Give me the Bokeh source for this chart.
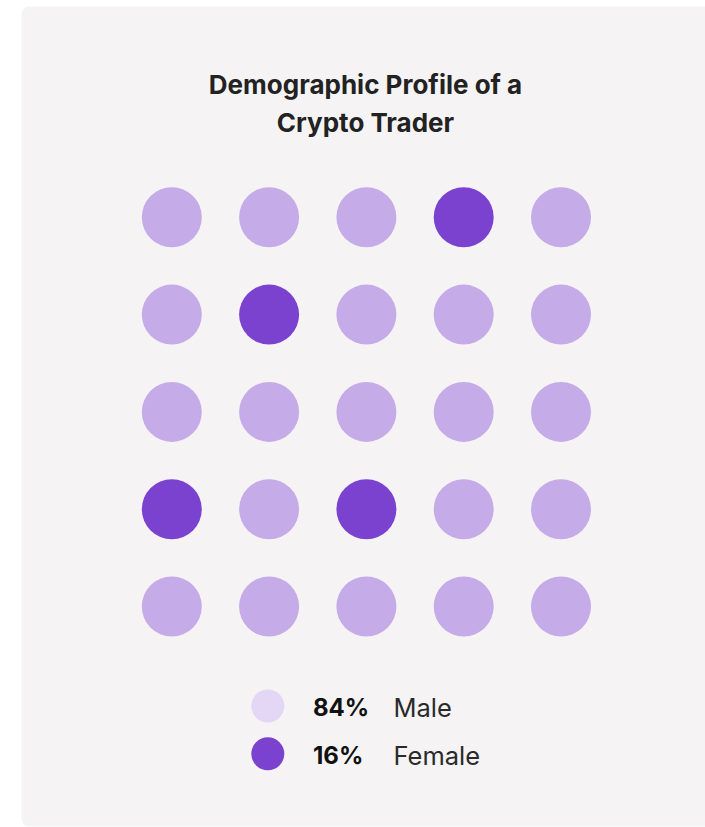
from bokeh.plotting import figure
from bokeh.models import Range1d, ColumnDataSource
from bokeh.core.properties import value
from bokeh.embed import file_html
from bokeh.resources import INLINE

title_lines = ["Demographic Profile of a", "Crypto Trader"]
grid_rows = [0, 0, 0, 0, 0, 1, 1, 1, 1, 1, 2, 2, 2, 2, 2, 3, 3, 3, 3, 3, 4, 4, 4, 4, 4]
grid_cols = [0, 1, 2, 3, 4] * 5
genders = ["Male", "Male", "Male", "Female", "Male",
           "Male", "Female", "Male", "Male", "Male",
           "Male", "Male", "Male", "Male", "Male",
           "Female", "Male", "Female", "Male", "Male",
           "Male", "Male", "Male", "Male", "Male"]
legend_labels = ["Male", "Female"]

LIGHT = "#c5abe8"
DARK = "#7a42cf"
LEGEND_LIGHT = "#e4d6f5"
BG = "#f5f3f4"
FONT = "Inter"

W, H = 705, 827
step = 97.3
x0 = -171.3 / step
y_top = -216.8 / step

p = figure(width=W, height=H, output_backend="svg", toolbar_location=None,
           x_range=Range1d(x0, x0 + W / step),
           y_range=Range1d(y_top + H / step, y_top),
           min_border=0, background_fill_color="white", border_fill_color="white",
           outline_line_color=None)
p.axis.visible = False
p.grid.visible = False
p.extra_x_ranges = {"px": Range1d(0, W)}
p.extra_y_ranges = {"px": Range1d(H, 0)}

# card
p.quad(left=21, right=740, top=6, bottom=826, fill_color=BG, line_color=None,
       border_radius=8, x_range_name="px", y_range_name="px")

# title
for i, t in enumerate(title_lines):
    p.text(x=[365], y=[84 + 37.5 * i], text=[t], text_align="center",
           text_baseline="alphabetic", text_font=value(FONT), text_font_size="26px",
           text_font_style="bold", text_color="#222222",
           x_range_name="px", y_range_name="px")

# grid of dots
colors = [DARK if g == "Female" else LIGHT for g in genders]
src = ColumnDataSource(dict(x=grid_cols, y=grid_rows, c=colors))
p.scatter(x="x", y="y", size=60, fill_color="c", line_color=None, source=src)

# legend
n = len(genders)
pcts = {lab: round(100 * genders.count(lab) / n) for lab in legend_labels}
sw_colors = [LEGEND_LIGHT, DARK]
for i, lab in enumerate(legend_labels):
    yc = 705.5 + 47.8 * i
    p.scatter(x=[267.3], y=[yc], size=33, fill_color=sw_colors[i], line_color=None,
              x_range_name="px", y_range_name="px")
    p.text(x=[312.5], y=[yc + 1.3], text=[f"{pcts[lab]}%"], text_align="left",
           text_baseline="alphabetic", text_font=value(FONT), text_font_size="24px",
           text_font_style="bold", text_color="#111111",
           x_range_name="px", y_range_name="px")
    p.text(x=[393], y=[yc + 1.3], text=[lab], text_align="left",
           text_baseline="alphabetic", text_font=value(FONT), text_font_size="25.5px",
           text_color="#2a2a2a", x_range_name="px", y_range_name="px")

open("out.html", "w").write(file_html(p, INLINE))
